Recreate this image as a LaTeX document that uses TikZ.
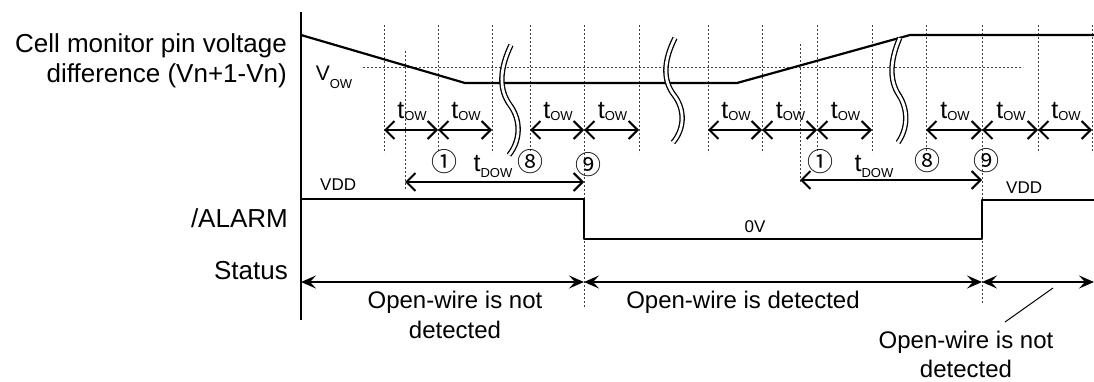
\documentclass[tikz,border=0pt]{standalone}
\usepackage{fontspec}
\setmainfont{Liberation Sans}
\newfontfamily\cjk{Noto Sans CJK JP}
\usetikzlibrary{arrows.meta}
\newcommand{\fsz}[1]{\fontsize{#1}{#1}\selectfont}
\newcommand{\tsub}[2]{{\fsz{25}t}\raisebox{-#1pt}{\fsz{13}#2}}
\begin{document}
\begin{tikzpicture}[x=1pt,y=-1pt,
  lbl/.style={inner sep=0pt,font=\fsz{26}},
  slbl/.style={inner sep=0pt,font=\fsz{24}},
  small/.style={inner sep=0pt,font=\fsz{17}},
  tl/.style={inner sep=0pt,anchor=base},
  circ/.style={inner sep=0pt,font=\cjk\fsz{26}},
  sig/.style={line width=2pt,line join=round},
  dotl/.style={line width=0.9pt,dash pattern=on 2pt off 2pt,black!75},
  tarr/.style={line width=2pt,{Straight Barb[length=9pt,width=18pt]}-{Straight Barb[length=9pt,width=18pt]}},
  starr/.style={line width=2pt,{Stealth[length=15pt,width=13pt,inset=6pt]}-{Stealth[length=15pt,width=13pt,inset=6pt]}},
  brkline/.style={line width=1.3pt,double=white,double distance=2.8pt},
  brk/.pic={\draw[brkline] (2,0) .. controls (-10,25) and (-10,45) .. (1,60) .. controls (12,75) and (12,95) .. (0,110);}
]
\useasboundingbox (0,0) rectangle (1094,381);

% left labels
\node[lbl,anchor=base east] (cell1) at (287,52) {Cell monitor pin voltage};
\node[lbl,anchor=base east] (cell2) at (287,82) {difference (Vn+1-Vn)};
\node[lbl,anchor=base east] (alarm) at (288,227) {/ALARM};
\node[lbl,anchor=base east] (status) at (288,279) {Status};

% dotted guide lines
\foreach \x in {384,438,492,530,639,708,762,817,872,926,1038,1092}
  \draw[dotl] (\x,25) -- (\x,153);
\draw[dotl] (584,25) -- (584,307);
\draw[dotl] (982,25) -- (982,303);
\draw[dotl] (405,51) -- (405,190);
\draw[dotl] (800,44) -- (800,184);
\draw[dotl] (363,67) -- (1023,67);

% axis
\draw[line width=2pt] (301,12) -- (301,320);

% voltage waveform
\draw[sig,line width=2.2pt] (301,35) -- (465,83) -- (737,83) -- (910,35) -- (1094,35);
\node[tl,font=\fsz{21}] (vow) at (334,80) {V\raisebox{-8pt}{\fsz{13}OW}};

% break marks
\pic at (509,45) {brk};
\pic[yscale=0.95] at (673,38) {brk};
\pic[yscale=0.95,xscale=0.85] at (898,38) {brk};

% tOW arrows
\foreach \a/\b in {384/438,438/492,530/584,584/639,708/762,762/817,817/872,926/982,982/1038,1038/1092}{
  \draw[tarr] (\a,130) -- (\b,130);
  \node[tl] at ({(\a+\b)/2+1},118) {\tsub{2}{OW}};
}

% tDOW arrows
\coordinate (d1a) at (405,182);
\coordinate (d1b) at (584,182);
\coordinate (d2a) at (800,180);
\coordinate (d2b) at (982,180);
\draw[tarr] (d1a) -- (d1b);
\draw[tarr] (d2a) -- (d2b);
\node[tl] (tdow1) at (493,171) {\tsub{6}{DOW}};
\node[tl] (tdow2) at (874,171) {\tsub{6}{DOW}};

% circled markers
\node[circ] (c1a) at (444,162) {①};
\node[circ] (c8a) at (530,162) {⑧};
\node[circ] (c9a) at (588,165) {⑨};
\node[circ] (c1b) at (820,162) {①};
\node[circ] (c8b) at (927,161) {⑧};
\node[circ] (c9b) at (986,161) {⑨};

% ALARM waveform
\draw[sig] (301,199) -- (584,199) -- (584,239) -- (982,239) -- (982,200) -- (1094,200);
\node[small,anchor=base west] (vdd1) at (320,190) {VDD};
\node[small,anchor=base west] (vdd2) at (1006,193) {VDD};
\node[small,anchor=base] (zv) at (755,232) {0V};

% status arrows
\coordinate (s0) at (301,282);
\coordinate (s1) at (584,282);
\coordinate (s2) at (982,282);
\coordinate (s3) at (1094,282);
\draw[starr] (s0) -- (s1);
\draw[starr] (s1) -- (s2);
\draw[starr] (s2) -- (s3);

\node[slbl,anchor=base] (nd1) at (455,308) {Open-wire is not};
\node[slbl,anchor=base] (nd2) at (455,338) {detected};
\node[slbl,anchor=base] (det) at (743,308) {Open-wire is detected};
\node[slbl,anchor=base] (nd3) at (966,348) {Open-wire is not};
\node[slbl,anchor=base] (nd4) at (966,377) {detected};
\coordinate (lead) at (1053,288);
\draw[line width=1pt] (lead) -- (1005,322);
\end{tikzpicture}
\end{document}
